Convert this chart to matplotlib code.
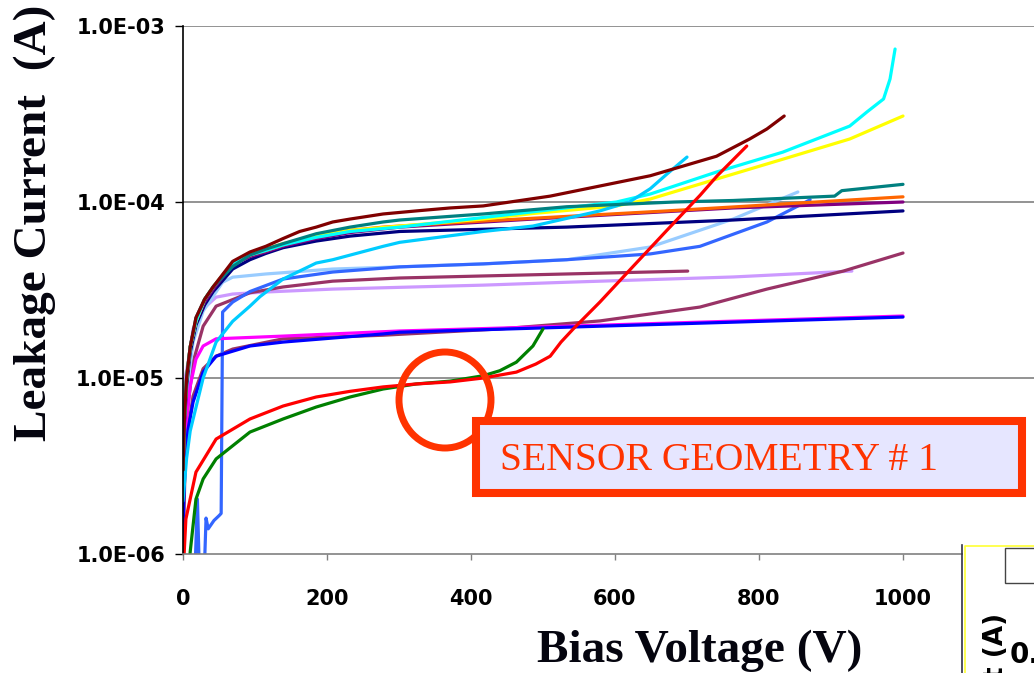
import numpy as np
import matplotlib
matplotlib.use('Agg')
import matplotlib.pyplot as plt
from matplotlib.patches import Ellipse, Rectangle

# I-V scans, bias in volts, current in microamps
maroon_v = [0, 2, 5, 10, 18, 30, 42, 69, 93, 115, 139, 162, 185, 208, 232, 278, 324, 371, 417,
            510, 649, 741, 787, 811, 835]
maroon_i = [3, 6, 10, 15, 22, 28, 33, 46, 52, 56, 62, 68, 72, 77, 80, 85.5, 89, 92.5, 95,
            108, 141, 182, 228, 260, 308]

teal_v = [0, 2, 5, 10, 18, 30, 42, 69, 93, 115, 139, 185, 232, 278, 301, 417, 533, 683, 764,
          905, 915, 1000]
teal_i = [3, 6, 10, 15, 22, 28, 33, 43, 50, 54, 58, 66, 72, 77, 79, 85.5, 94, 100, 102,
          108, 116, 126]

orange_v = [0, 2, 5, 10, 18, 30, 42, 69, 93, 115, 139, 162, 185, 232, 278, 301, 417, 672, 1000]
orange_i = [3, 6, 10, 15, 21, 28, 33, 45, 50, 53, 57, 61, 64, 69, 72, 73, 78, 89, 107]

purple_v = [0, 2, 5, 10, 18, 30, 42, 69, 93, 115, 139, 185, 232, 301, 486, 764, 1000]
purple_i = [3, 6, 10, 15, 21, 27, 32, 44, 49, 52, 56, 62, 67, 72, 80, 92.5, 100]

navy_v = [0, 2, 5, 10, 18, 30, 42, 69, 93, 115, 139, 185, 232, 301, 417, 533, 764, 1000]
navy_i = [3, 5.5, 9, 14, 20, 26, 31, 41.6, 47, 51, 55, 60, 64, 68, 70, 72, 79, 89]

yellow_v = [0, 2, 5, 10, 18, 30, 42, 69, 93, 115, 139, 185, 232, 301, 417, 486, 602, 649, 741,
            833, 926, 1000]
yellow_i = [3, 6, 10, 15, 21, 28, 33, 45, 50, 54, 58, 64, 69, 73, 80, 86, 95, 104, 135,
            175, 228, 308]

cyan_v = [0, 2, 5, 10, 18, 30, 42, 69, 93, 115, 139, 185, 232, 301, 486, 602, 649, 741, 833,
          926, 950, 973, 982, 989]
cyan_i = [3, 6, 10, 15, 21, 28, 33, 45, 50, 53, 57, 63, 68, 72, 88, 100, 111, 148, 192,
          270, 325, 385, 500, 740]

sky_v = [0, 5, 10, 28, 46, 69, 93, 107, 139, 185, 208, 278, 301, 417, 486, 579, 620, 649, 672, 700]
sky_i = [2, 3.5, 5, 10, 16, 21, 25.6, 29, 36.5, 45, 47, 56, 59, 68, 73, 89, 100, 119, 144, 180]

lightsky_v = [0, 5, 14, 28, 55, 69, 115, 208, 301, 417, 533, 649, 764, 854]
lightsky_i = [3, 8, 16, 24, 35, 37.4, 39, 41.6, 42.8, 44.5, 47, 55.5, 80, 114]

royal_v = [0, 15, 20, 24, 28, 32, 35, 43, 50, 53, 55, 69, 93, 139, 208, 301, 417, 533, 649,
           718, 811, 871]
royal_i = [0.5, 0.5, 2.05, 0.5, 0.5, 1.6, 1.39, 1.55, 1.65, 1.7, 23.7, 27, 31, 36.5, 40,
           42.8, 44.5, 47, 50.7, 56, 77, 103]

plum_v = [0, 3, 14, 28, 46, 93, 139, 208, 301, 417, 701]
plum_i = [2, 5, 12.3, 19.7, 25.6, 30.5, 32.9, 35.5, 37, 38, 40.5]

lavender_v = [0, 3, 7, 14, 28, 46, 69, 115, 208, 417, 533, 764, 929]
lavender_i = [4, 10, 12.3, 19, 24.7, 28.8, 30, 30.8, 32, 33.7, 35, 37.5, 40.5]

plum2_v = [0, 3, 7, 14, 28, 46, 69, 139, 278, 440, 579, 718, 811, 917, 1000]
plum2_i = [1, 3.3, 5.1, 7.9, 11.3, 13.3, 14.6, 16.7, 17.5, 19, 21.1, 25.3, 32, 40.5, 51.3]

magenta_v = [0, 3, 10, 18, 28, 46, 139, 301, 533, 1000]
magenta_i = [2, 5, 9, 12.8, 15.2, 16.7, 17.3, 18.5, 19.7, 22.5]

blue_v = [0, 1, 3, 7, 14, 28, 46, 69, 93, 139, 278, 301, 1000]
blue_i = [1, 2, 3.3, 5.1, 7.3, 10.8, 13.3, 14.2, 15.2, 16, 17.8, 18.2, 22.2]

green_v = [5, 10, 18, 28, 46, 93, 139, 185, 232, 278, 324, 371, 417, 440, 463, 486, 500]
green_i = [0.5, 1.03, 2.05, 2.67, 3.47, 4.93, 5.85, 6.84, 7.8, 8.66, 9.25, 9.6, 10.3, 11,
           12.3, 15.2, 19]

red_v = [1, 4, 18, 46, 93, 139, 185, 232, 278, 324, 371, 417, 463, 490, 510, 525, 542, 579,
         625, 672, 718, 742, 783]
red_i = [0.9, 1.58, 2.92, 4.5, 5.85, 6.93, 7.8, 8.4, 8.9, 9.25, 9.5, 10, 10.8, 12, 13.3,
         16, 19, 27, 43, 69, 109, 141, 208]

curves = [
    (lavender_v, lavender_i, '#CC99FF'),
    (plum_v, plum_i, '#993366'),
    (plum2_v, plum2_i, '#993366'),
    (lightsky_v, lightsky_i, '#99CCFF'),
    (royal_v, royal_i, '#3366FF'),
    (magenta_v, magenta_i, '#FF00FF'),
    (blue_v, blue_i, '#0000FF'),
    (navy_v, navy_i, '#000080'),
    (purple_v, purple_i, '#800080'),
    (orange_v, orange_i, '#FF6600'),
    (yellow_v, yellow_i, '#FFFF00'),
    (cyan_v, cyan_i, '#00FFFF'),
    (sky_v, sky_i, '#00CCFF'),
    (teal_v, teal_i, '#008080'),
    (maroon_v, maroon_i, '#800000'),
    (green_v, green_i, '#008000'),
    (red_v, red_i, '#FF0000'),
]

y_ticks = [1e-6, 1e-5, 1e-4, 1e-3]
y_ticklabels = ['1.0E-06', '1.0E-05', '1.0E-04', '1.0E-03']
x_ticks = [0, 200, 400, 600, 800, 1000]

W, H = 1034, 673


def fx(px):
    return px / W


def fy(py):
    return 1 - py / H


fig = plt.figure(figsize=(W / 100, H / 100), dpi=100)
ax = fig.add_axes([fx(183), fy(554), fx(W - 183), (554 - 26) / H])

for v, i, c in curves:
    ax.plot(v, np.array(i) * 1e-6, color=c, lw=2.3, solid_capstyle='round',
            solid_joinstyle='round')

ax.set_yscale('log')
ax.set_ylim(1e-6, 1e-3)
ax.set_xlim(0, (W - 183) / 0.72)
ax.yaxis.set_major_locator(matplotlib.ticker.FixedLocator(y_ticks))
ax.yaxis.set_minor_locator(matplotlib.ticker.NullLocator())
ax.set_yticklabels(y_ticklabels)
ax.set_xticks(x_ticks)
ax.set_xticklabels([str(t) for t in x_ticks])

for t in y_ticks[1:]:
    ax.axhline(t, color='#808080', lw=1.2, zorder=0)

for side in ['top', 'right']:
    ax.spines[side].set_visible(False)
ax.spines['left'].set_color('black')
ax.spines['left'].set_linewidth(1.2)
ax.spines['bottom'].set_color('#808080')
ax.spines['bottom'].set_linewidth(1.2)

ax.tick_params(axis='y', direction='out', length=6, width=1, color='black', pad=7,
               labelsize=15)
ax.tick_params(axis='x', direction='out', length=4, width=1, color='#808080', pad=21,
               labelsize=15)
for lbl in ax.get_xticklabels() + ax.get_yticklabels():
    lbl.set_fontweight('bold')
    lbl.set_family('DejaVu Sans')

serif = ['Liberation Serif', 'DejaVu Serif']
fig.text(fx(700), fy(662), 'Bias Voltage (V)', ha='center', va='baseline',
         family=serif, fontweight='bold', fontsize=34, color='#05050f')
fig.text(fx(35), fy(223), 'Leakage Current  (A)', ha='center', va='center', rotation=90,
         family=serif, fontweight='bold', fontsize=34, color='#05050f')

# highlight ring and caption box
ring = Ellipse((fx(445), fy(400)), 92 / W, 96 / H, transform=fig.transFigure,
               fill=False, edgecolor='#FF3300', lw=5, zorder=5)
fig.add_artist(ring)
box = Rectangle((fx(476), fy(493)), (1022 - 476) / W, (493 - 421) / H,
                transform=fig.transFigure, facecolor='#E6E6FF',
                edgecolor='#FF3300', lw=5.8, zorder=6)
fig.add_artist(box)
fig.text(fx(500), fy(470), 'SENSOR GEOMETRY # 1', ha='left', va='baseline',
         family=serif, fontsize=28.5, color='#FF3300', zorder=7)

# corner of the neighbouring plot
fig.add_artist(Rectangle((fx(963), 0), (W - 963) / W, (H - 545) / H,
                         transform=fig.transFigure, facecolor='white',
                         edgecolor='none', zorder=8))
fig.add_artist(matplotlib.lines.Line2D([fx(962), fx(962)], [0, fy(545)],
                                       transform=fig.transFigure, color='#333344',
                                       lw=1.2, zorder=9))
fig.add_artist(matplotlib.lines.Line2D([fx(965), fx(965), 1], [0, fy(546), fy(546)],
                                       transform=fig.transFigure, color='#FFFF33',
                                       lw=1.2, zorder=9))
fig.add_artist(Rectangle((fx(1005), fy(583)), 40 / W, 35 / H,
                         transform=fig.transFigure, facecolor='white',
                         edgecolor='#444444', lw=1, zorder=9))
fig.text(fx(996), fy(613), 't (A)', ha='center', va='top', rotation=90,
         family='DejaVu Sans', fontweight='bold', fontsize=19, zorder=10)
fig.text(fx(1010), fy(663), '0.', ha='left', va='baseline',
         family='DejaVu Sans', fontweight='bold', fontsize=20, zorder=10)

fig.savefig('out.png', dpi=100)
